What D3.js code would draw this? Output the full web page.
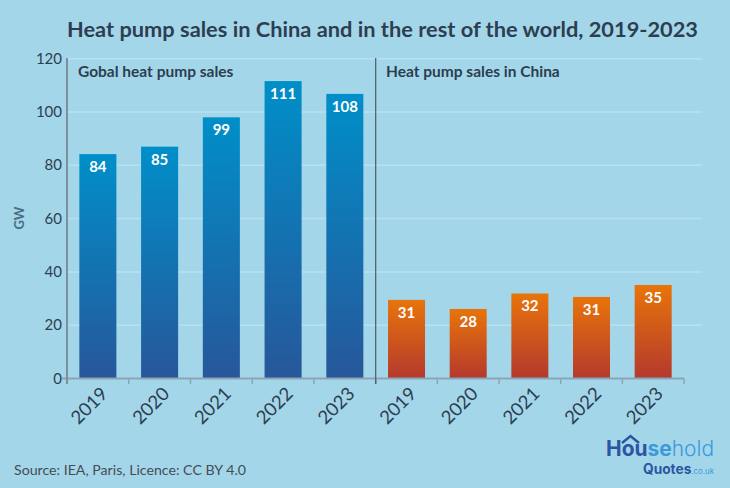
<!DOCTYPE html>
<html><head><meta charset="utf-8">
<script src="https://cdn.jsdelivr.net/npm/d3@7"></script>
<style>
html,body{margin:0;padding:0;background:#a4d6ea;}
svg{display:block;}
</style></head>
<body>
<svg id="chart" width="730" height="488"></svg>
<script>
const years = ["2019","2020","2021","2022","2023"];
const globalBars = [84.2, 87, 98, 111.6, 106.8];
const globalLabels = ["84","85","99","111","108"];
const chinaBars = [29.5, 26.1, 31.9, 30.6, 35.1];
const chinaLabels = ["31","28","32","31","35"];
const yTicks = [0,20,40,60,80,100,120];
const panelTitles = ["Gobal heat pump sales","Heat pump sales in China"];

const svg = d3.select("#chart");
const font = "Lato, 'Open Sans', sans-serif";
const dark = "#2c3e50";

svg.append("rect").attr("width",730).attr("height",488).attr("fill","#a4d6ea");

const defs = svg.append("defs");
const gb = defs.append("linearGradient").attr("id","gBlue").attr("x1",0).attr("x2",0).attr("y1",0).attr("y2",1);
gb.append("stop").attr("offset","0%").attr("stop-color","#008fc9");
gb.append("stop").attr("offset","100%").attr("stop-color","#27579a");
const go = defs.append("linearGradient").attr("id","gOrange").attr("x1",0).attr("x2",0).attr("y1",0).attr("y2",1);
go.append("stop").attr("offset","0%").attr("stop-color","#e8740a");
go.append("stop").attr("offset","100%").attr("stop-color","#b4392d");

const y = d3.scaleLinear().domain([0,120]).range([378.5,58.7]);
const xL = d3.scaleBand().domain(years).range([67,375.7]).paddingInner(0.4).paddingOuter(0.2);
const xR = d3.scaleBand().domain(years).range([375.7,684]).paddingInner(0.4).paddingOuter(0.2);

// gridlines
svg.append("g").selectAll("line").data(yTicks.filter(d=>d>0)).join("line")
  .attr("x1",67).attr("x2",702).attr("y1",d=>y(d)).attr("y2",d=>y(d))
  .attr("stroke","#b9e0f1").attr("stroke-width",1.5);

// y tick labels
svg.append("g").selectAll("text").data(yTicks).join("text")
  .attr("x",62).attr("y",d=>y(d)+5).attr("text-anchor","end")
  .attr("font-family",font).attr("font-size",15).attr("fill",dark).text(d=>d);

// GW
svg.append("text").attr("transform","translate(24,218) rotate(-90)")
  .attr("text-anchor","middle").attr("font-family",font).attr("font-weight","bold")
  .attr("font-size",13).attr("fill","#4a6c84").text("GW");

function drawPanel(x, bars, labels, fill, titleText, titleX){
  const g = svg.append("g");
  g.selectAll("rect").data(bars).join("rect")
    .attr("x",(d,i)=>x(years[i])).attr("width",x.bandwidth())
    .attr("y",d=>y(d)).attr("height",d=>y(0)-y(d))
    .attr("fill",fill);
  g.selectAll("text.v").data(labels).join("text").attr("class","v")
    .attr("x",(d,i)=>x(years[i])+x.bandwidth()/2).attr("y",(d,i)=>y(bars[i])+18)
    .attr("text-anchor","middle").attr("font-family",font).attr("font-weight","bold")
    .attr("font-size",15).attr("fill","#ffffff").text(d=>d);
  g.selectAll("text.yr").data(years).join("text").attr("class","yr")
    .attr("transform",d=>`translate(${x(d)+x.bandwidth()/2+11},${395}) rotate(-45)`)
    .attr("text-anchor","end").attr("font-family",font).attr("font-size",18.5)
    .attr("fill",dark).text(d=>d);
  const bounds = years.map(d=>x(d)-x.step()*x.paddingInner()/2).concat([x.range()[1]]);
  g.selectAll("line.t").data(bounds).join("line").attr("class","t")
    .attr("x1",d=>d).attr("x2",d=>d).attr("y1",378.5).attr("y2",384)
    .attr("stroke","#8aa6b6").attr("stroke-width",1.5);
  g.append("text").attr("x",titleX).attr("y",77).attr("font-family",font)
    .attr("font-weight","bold").attr("font-size",15.5).attr("fill",dark).text(titleText);
}
drawPanel(xL, globalBars, globalLabels, "url(#gBlue)", panelTitles[0], 78);
drawPanel(xR, chinaBars, chinaLabels, "url(#gOrange)", panelTitles[1], 386);

// axes lines
svg.append("line").attr("x1",62).attr("x2",684).attr("y1",378.5).attr("y2",378.5)
  .attr("stroke","#8aa6b6").attr("stroke-width",2);
svg.append("line").attr("x1",67).attr("x2",67).attr("y1",58).attr("y2",384)
  .attr("stroke","#7a909c").attr("stroke-width",2);
svg.append("line").attr("x1",375.7).attr("x2",375.7).attr("y1",58).attr("y2",384)
  .attr("stroke","#4d5a63").attr("stroke-width",1.2);

// title
svg.append("text").attr("x",67).attr("y",37).attr("font-family",font)
  .attr("font-weight","bold").attr("font-size",21).attr("fill","#2c3e50")
  .attr("textLength",631).attr("lengthAdjust","spacingAndGlyphs")
  .text("Heat pump sales in China and in the rest of the world, 2019-2023");

// source
svg.append("text").attr("x",14).attr("y",475).attr("font-family",font)
  .attr("font-size",14).attr("fill","#444c54")
  .attr("textLength",232).attr("lengthAdjust","spacingAndGlyphs")
  .text("Source: IEA, Paris, Licence: CC BY 4.0");

// logo
const lg = svg.append("g").attr("font-family","Inter, 'Open Sans', sans-serif");
const t1 = lg.append("text").attr("x",606).attr("y",456).attr("font-size",21)
  .attr("textLength",108).attr("lengthAdjust","spacingAndGlyphs");
t1.append("tspan").attr("fill","#2a55a0").attr("font-weight","bold").text("Hou");
t1.append("tspan").attr("fill","#3b9ad9").attr("font-weight","bold").text("se");
t1.append("tspan").attr("fill","#3b9ad9").attr("font-weight","300").text("hold");
lg.append("path").attr("d","M622,443 L630.5,436 L639,443").attr("fill","none").attr("stroke","#2a55a0").attr("stroke-width",2.5);
const t2 = lg.append("text").attr("x",643).attr("y",474).attr("font-size",14)
  .attr("textLength",71).attr("lengthAdjust","spacingAndGlyphs");
t2.append("tspan").attr("fill","#2a55a0").attr("font-weight","bold").text("Quotes");
t2.append("tspan").attr("fill","#3b9ad9").attr("font-size",8).text(".co.uk");
</script>
</body></html>
